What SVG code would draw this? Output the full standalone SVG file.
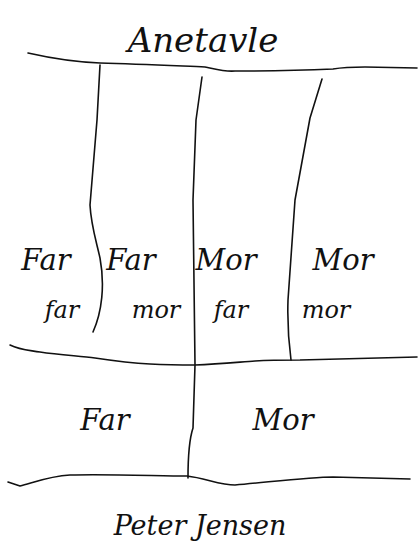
<svg xmlns="http://www.w3.org/2000/svg" width="419" height="549" viewBox="0 0 419 549">
<style>
.ln{fill:none;stroke:#111;stroke-width:1.6;stroke-linecap:round;stroke-linejoin:round}
text{font-family:"DejaVu Serif","Liberation Serif",serif;font-style:italic;fill:#111;text-anchor:middle}
.t{font-size:34px}
.n{font-size:29px}
.s{font-size:24px}
.p{font-size:27px}
</style>
<rect width="419" height="549" fill="#fff"/>
<g id="title"><text class="t" x="203" y="52">Anetavle</text></g>
<g id="lines">
<path class="ln" d="M28,53 C50,58 75,62 100,63 C140,64 180,66 205,67 C215,69 225,72 235,71 C270,71 310,70 333,69 C345,67 352,67 365,67 L417,68"/>
<path class="ln" d="M100,65 L97,120 L90,205 C91,225 96,240 100,258 C105,285 102,312 93,332"/>
<path class="ln" d="M202,77 L196,120 L193,200 L195,365 L193,428 C189,440 188,460 188,478"/>
<path class="ln" d="M322,79 L310,118 L295,200 L288,300 C287,330 289,345 291,360"/>
<path class="ln" d="M10,345 C20,350 28,350 40,352 C60,355 80,356 95,358 C115,361 130,363 150,364 C170,365 185,365 195,365 C220,364 240,362 255,361 C270,360 290,360 300,360 L417,357"/>
<path class="ln" d="M8,482 L20,486 C35,482 50,476 70,475 C110,474 160,476 187,476 C205,478 220,485 235,485 C270,482 310,477 333,477 L410,479"/>
</g>
<g id="farfar"><text class="n" x="46" y="270">Far</text><text class="s" x="62" y="318">far</text></g>
<g id="farmor"><text class="n" x="131" y="270">Far</text><text class="s" x="156" y="318">mor</text></g>
<g id="morfar"><text class="n" x="226" y="270">Mor</text><text class="s" x="231" y="318">far</text></g>
<g id="mormor"><text class="n" x="343" y="270">Mor</text><text class="s" x="326" y="318">mor</text></g>
<g id="far"><text class="n" x="105" y="430">Far</text></g>
<g id="mor"><text class="n" x="283" y="430">Mor</text></g>
<g id="person"><text class="p" x="200" y="535">Peter Jensen</text></g>
</svg>
